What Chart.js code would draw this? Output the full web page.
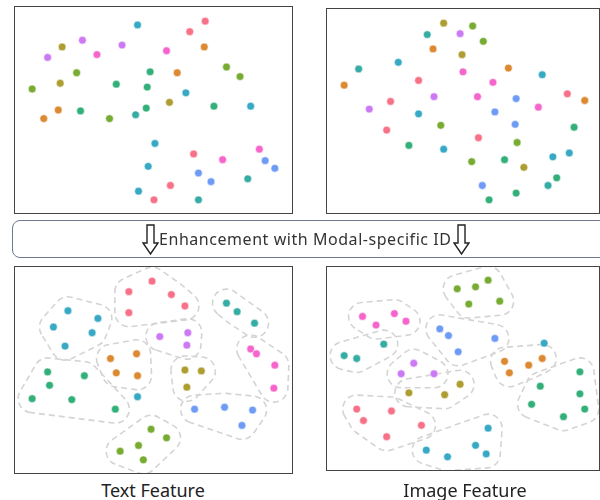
<!DOCTYPE html>
<html>
<head>
<meta charset="utf-8">
<script src="https://cdn.jsdelivr.net/npm/chart.js@4/dist/chart.umd.min.js"></script>
<style>
  body { margin: 0; background: #fff; width: 600px; height: 500px; position: relative; overflow: hidden; font-family: "Noto Sans", sans-serif; }
  .panel { position: absolute; outline: 1.5px solid #444; }
  .panel canvas { display: block; }
  #banner { position: absolute; left: 12px; top: 220px; width: 600px; height: 36px; border: 1.5px solid #6e7890; border-radius: 8px; }
  #bannerText { position: absolute; left: 159px; top: 228px; font-size: 16px; letter-spacing: 0.55px; color: #333; white-space: nowrap; }
  .arrow { position: absolute; top: 224px; }
  .caption { position: absolute; top: 478px; font-size: 18px; color: #222; width: 200px; text-align: center; }
</style>
</head>
<body>

<div class="panel" id="pTL" style="left:15px;top:7px;width:277px;height:206px"><canvas id="cTL" width="277" height="206"></canvas></div>
<div class="panel" id="pTR" style="left:327px;top:9px;width:272px;height:204px"><canvas id="cTR" width="272" height="204"></canvas></div>
<div id="banner"></div>
<svg class="arrow" style="left:142px" width="17" height="32" viewBox="0 0 17 32"><path d="M5 1 H12 V19 H16 L8.5 30 L1 19 H5 Z" fill="#fff" stroke="#222" stroke-width="1.4"/></svg>
<div id="bannerText">Enhancement with Modal-specific ID</div>
<svg class="arrow" style="left:453px" width="17" height="32" viewBox="0 0 17 32"><path d="M5 1 H12 V19 H16 L8.5 30 L1 19 H5 Z" fill="#fff" stroke="#222" stroke-width="1.4"/></svg>
<div class="panel" id="pBL" style="left:15px;top:267px;width:277px;height:206px"><canvas id="cBL" width="277" height="206"></canvas></div>
<div class="panel" id="pBR" style="left:327px;top:267px;width:272px;height:203px"><canvas id="cBR" width="272" height="203"></canvas></div>
<div class="caption" style="left:53px">Text Feature</div>
<div class="caption" style="left:365px">Image Feature</div>

<script>
// class colours (husl palette)
var classColors = ["#f77189", "#dc8932", "#ae9d31", "#77ab31", "#33b07a", "#36ada4", "#38a9c5", "#6e9bf4", "#cc7af4", "#f565cc"];

// ---- top left: text features before ----
var tlX = [122,192,176,65,44,106,80,152,191,29,59,135,163,214,228,42,13,100,132,172,155,40,25,63,93,120,131,201,239,140,180,210,248,254,264,133,185,198,236,156,123,139,185];
var tlY = [14,10,21,30,37,35,45,41,37,48,64,63,64,58,68,75,81,76,79,85,95,103,112,104,112,108,101,99,99,138,149,155,144,156,164,162,169,178,175,182,188,197,197];
var tlC = [6,0,0,8,2,8,9,9,1,8,3,4,1,3,3,2,3,4,4,6,2,1,1,4,3,5,4,4,6,6,0,9,9,7,7,6,7,7,5,0,6,0,5];

// ---- top right: image features before ----
var trX = [116,146,99,133,157,105,135,69,28,136,183,218,13,90,167,244,262,61,106,151,191,214,39,90,169,190,113,251,57,152,192,80,116,246,229,145,179,199,233,156,224,191,163];
var trY = [10,13,22,21,29,37,43,51,58,61,57,64,75,70,72,84,91,92,87,87,89,98,100,105,103,116,117,119,122,130,135,138,142,146,150,155,153,161,172,180,180,188,195];
var trC = [2,3,5,8,3,1,2,6,5,9,1,6,1,0,9,0,1,0,8,9,7,9,8,6,7,7,3,4,0,0,3,4,6,6,6,3,4,2,4,7,5,4,4];

// ---- bottom left: text features after enhancement ----
var blX = [137,113,157,171,113, 50,81,35,75,47, 214,225,243, 145,174,173, 239,245,264,263, 94,121,100,122, 171,188,173, 29,67,31,13,54,99, 181,212,241,230, 136,152,123,104,128];
var blY = [10,21,24,36,43, 41,49,58,64,78, 33,42,54, 68,64,77, 81,86,98,122, 91,86,106,109, 103,104,121, 105,109,119,133,134,144, 144,142,145,161, 165,174,182,188,197];
var blC = [0,0,0,0,0, 6,6,6,6,6, 5,5,5, 8,8,8, 9,9,9,9, 1,1,1,1, 2,2,2, 4,4,4,4,4,4, 7,7,7,7, 3,3,3,3,3];
var blStrayX = [122];
var blStrayY = [131];
var blStrayC = [6];

// ---- bottom right: image features after enhancement ----
var brX = [130,149,162,142,174, 32,46,65,77, 112,121,169,131, 54,13,26, 179,204,218,184, 85,72,106, 133,80,117, 257,216,257,262,207,240, 26,62,33,93,57, 162,149,160,98,120];
var brY = [18,16,9,34,31, 47,56,44,52, 60,67,70,84, 76,88,91, 94,98,91,106, 96,107,107, 118,127,129, 105,120,128,144,139,152, 144,146,156,161,173, 164,182,191,187,194];
var brC = [3,3,3,3,3, 9,9,9,9, 7,7,7,7, 5,5,5, 1,1,1,1, 8,8,8, 2,2,2, 4,4,4,4,4,4, 0,0,0,0,0, 6,6,6,6,6];
var brStrayX = [220];
var brStrayY = [75];
var brStrayC = [6];

function hull(pts) {
  pts = pts.slice().sort(function (a, b) { return a.x - b.x || a.y - b.y; });
  if (pts.length < 3) return pts;
  function cross(o, a, b) { return (a.x - o.x) * (b.y - o.y) - (a.y - o.y) * (b.x - o.x); }
  var lower = [], upper = [];
  pts.forEach(function (p) {
    while (lower.length >= 2 && cross(lower[lower.length - 2], lower[lower.length - 1], p) <= 0) lower.pop();
    lower.push(p);
  });
  for (var i = pts.length - 1; i >= 0; i--) {
    var p = pts[i];
    while (upper.length >= 2 && cross(upper[upper.length - 2], upper[upper.length - 1], p) <= 0) upper.pop();
    upper.push(p);
  }
  lower.pop(); upper.pop();
  var h = lower.concat(upper);
  // make it clockwise on screen
  var area = 0;
  for (var k = 0; k < h.length; k++) {
    var a = h[k], b = h[(k + 1) % h.length];
    area += a.x * b.y - b.x * a.y;
  }
  if (area < 0) h.reverse();
  return h;
}

// dashed blobs round each cluster, built from the cluster's points
var clusterOutline = {
  id: "clusterOutline",
  beforeDatasetsDraw: function (chart, args, opts) {
    if (!opts.groups) return;
    var ctx = chart.ctx, xs = chart.scales.x, ys = chart.scales.y;
    ctx.save();
    ctx.strokeStyle = "#d4d4d4";
    ctx.lineWidth = 1.6;
    ctx.setLineDash([6, 4]);
    opts.groups.forEach(function (g) {
      var pts = g.map(function (p) { return { x: xs.getPixelForValue(p.x), y: ys.getPixelForValue(p.y) }; });
      var h = hull(pts), r = opts.pad, n = h.length;
      ctx.beginPath();
      for (var i = 0; i < n; i++) {
        var p = h[i], prev = h[(i - 1 + n) % n], next = h[(i + 1) % n];
        var a1 = Math.atan2(p.y - prev.y, p.x - prev.x) - Math.PI / 2;
        var a2 = Math.atan2(next.y - p.y, next.x - p.x) - Math.PI / 2;
        ctx.arc(p.x, p.y, r, a1, a2, false);
      }
      ctx.closePath();
      ctx.stroke();
    });
    ctx.restore();
  }
};

function makeChart(id, w, h, xs, ys, cs, sx, sy, sc, outline) {
  var datasets = classColors.map(function (col, c) {
    var pts = [];
    xs.forEach(function (x, i) { if (cs[i] === c) pts.push({ x: x, y: ys[i] }); });
    sx.forEach(function (x, i) { if (sc[i] === c) pts.push({ x: x, y: sy[i] }); });
    return { data: pts, backgroundColor: col, borderColor: "#ffffff", borderWidth: 0.6, pointRadius: 3.9 };
  });
  var groups = null;
  if (outline) {
    groups = [];
    classColors.forEach(function (col, c) {
      var g = [];
      xs.forEach(function (x, i) { if (cs[i] === c) g.push({ x: x, y: ys[i] }); });
      if (g.length) groups.push(g);
    });
  }
  return new Chart(id, {
    type: "scatter",
    data: { datasets: datasets },
    options: {
      responsive: false,
      animation: false,
      clip: false,
      layout: { padding: 0 },
      scales: {
        x: { display: false, min: 0, max: w },
        y: { display: false, min: 0, max: h, reverse: true }
      },
      plugins: {
        legend: { display: false },
        tooltip: { enabled: false },
        clusterOutline: { groups: groups, pad: 14 }
      }
    },
    plugins: [clusterOutline]
  });
}

makeChart("cTL", 277, 206, tlX, tlY, tlC, [], [], [], false);
makeChart("cTR", 272, 204, trX, trY, trC, [], [], [], false);
makeChart("cBL", 277, 206, blX, blY, blC, blStrayX, blStrayY, blStrayC, true);
makeChart("cBR", 272, 203, brX, brY, brC, brStrayX, brStrayY, brStrayC, true);
</script>
</body>
</html>
